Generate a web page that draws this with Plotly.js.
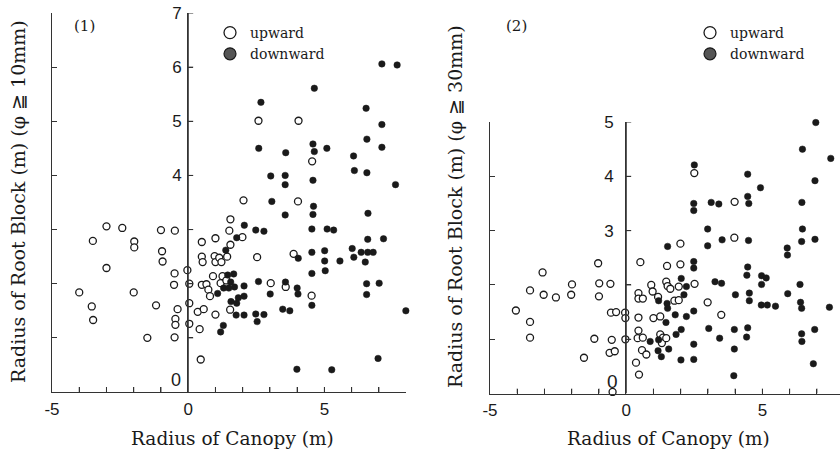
<!DOCTYPE html>
<html><head><meta charset="utf-8">
<script src="https://cdn.plot.ly/plotly-3.0.1.min.js"></script>
<style>html,body{margin:0;padding:0;background:#fff;}#chart{width:840px;height:454px;}</style>
</head><body><div id="chart"></div>
<script>
// ---------- Panel (1): φ ≧ 10mm ----------
const p1UpwardX = [-4.0,-3.5,-3.54,-3.49,-3.0,-3.0,-2.42,-1.98,-1.98,-2.0,-1.5,-1.18,-1.0,-0.96,-0.94,-0.49,-0.5,-0.52,-0.39,-0.47,-0.47,-0.5,-0.03,0.04,0.04,0.04,0.35,0.57,0.42,0.46,0.5,0.5,0.53,0.5,0.67,0.74,0.8,0.91,1.0,0.97,1.0,1.14,1.22,1.19,1.26,1.0,1.43,1.55,1.54,1.51,1.55,1.99,2.03,2.53,2.58,3.03,3.58,3.87,4.03,4.05,4.55,4.53,1.40];
const p1UpwardY = [1.84,2.79,1.58,1.33,3.06,2.29,3.03,2.78,2.67,1.84,1.0,1.6,2.99,2.6,2.41,2.98,2.19,1.98,1.53,1.35,1.24,1.01,2.25,2.0,1.64,1.26,1.48,1.53,1.16,0.6,2.77,2.5,2.4,1.98,1.99,1.89,1.77,2.14,2.84,2.51,2.4,2.48,2.4,2.01,2.14,1.43,2.5,2.72,1.52,2.98,3.19,2.86,3.54,2.49,5.01,2.01,1.94,2.55,3.52,5.01,4.26,1.78,2.06];
const p1DownwardX = [7.11,7.67,4.63,2.67,6.53,7.11,2.59,3.58,4.58,4.63,5.09,6.07,6.56,7.11,3.03,3.56,3.56,4.58,6.10,6.56,7.61,3.07,4.60,3.56,4.58,6.60,2.06,4.54,5.10,5.34,6.59,7.17,2.48,2.78,1.78,1.38,4.04,4.54,5.01,5.01,5.57,6.02,6.08,6.35,6.59,6.79,6.50,5.03,4.54,6.55,7.01,6.55,4.00,4.03,4.54,3.47,3.73,7.99,6.97,3.99,5.27,1.45,1.67,1.56,1.30,1.49,1.70,1.08,2.05,2.05,2.58,3.01,3.57,1.84,1.57,1.78,1.76,2.05,2.48,2.78,2.53,1.29,1.19];
const p1DownwardY = [6.06,6.04,5.61,5.35,5.24,4.94,4.50,4.42,4.58,4.44,4.50,4.36,4.67,4.52,3.99,4.00,3.83,3.91,4.09,4.05,3.83,3.52,3.43,3.27,3.28,3.30,3.08,3.01,3.01,2.99,2.82,2.83,2.99,2.97,2.85,2.62,2.47,2.58,2.61,2.42,2.42,2.65,2.49,2.58,2.58,2.58,2.40,2.24,2.19,2.00,2.01,1.80,1.92,1.81,1.60,1.53,1.50,1.50,0.62,0.42,0.41,2.16,2.18,2.03,1.92,1.92,1.94,1.82,1.96,1.77,2.04,1.81,2.03,1.74,1.67,1.64,1.42,1.42,1.44,1.43,1.30,1.23,1.11];

// ---------- Panel (2): φ ≧ 30mm ----------
const p2UpwardX = [-4.05,-3.53,-3.53,-3.53,-3.07,-3.03,-2.58,-1.99,-2.02,-1.55,-1.17,-1.03,-0.99,-1.00,-0.58,-0.56,-0.37,-0.53,-0.61,-0.42,-0.50,-0.04,-0.03,-0.03,0.52,0.45,0.45,0.61,0.45,0.45,0.42,0.61,0.58,0.74,0.36,0.47,0.92,0.97,1.17,1.00,1.25,1.25,1.35,1.31,1.47,1.47,1.52,1.62,1.50,1.99,1.99,1.93,1.77,1.93,2.51,2.50,2.99,3.49,3.97,3.98];
const p2UpwardY = [1.53,1.90,1.32,1.03,2.23,1.82,1.77,2.01,1.82,0.66,1.01,2.40,2.03,1.79,2.02,1.49,1.50,0.99,0.75,0.78,0.03,1.49,1.39,1.00,2.42,1.85,1.75,1.75,1.40,1.16,1.02,1.03,0.80,0.72,0.57,0.35,2.00,1.88,1.78,1.39,1.42,1.09,1.03,0.93,1.02,2.06,1.98,1.93,2.35,2.76,2.38,1.97,1.71,1.72,2.02,4.06,1.68,1.45,2.87,3.53];
const p2DownwardX = [2.50,4.46,6.96,6.47,7.51,6.93,4.93,2.48,2.48,3.12,3.40,4.46,4.50,6.45,2.99,6.47,3.52,2.99,1.52,4.49,6.44,6.93,5.91,5.92,2.48,2.48,4.46,4.43,4.97,5.14,2.02,2.21,3.26,3.50,4.97,6.38,2.12,4.01,4.52,4.52,5.93,1.19,1.50,1.52,4.96,5.18,5.48,6.40,6.44,7.46,1.80,2.21,2.48,1.46,3.03,2.02,3.97,4.46,6.92,1.83,3.43,4.42,6.44,6.45,0.88,1.19,2.48,1.17,1.56,3.97,1.29,2.01,2.48,6.87,3.95];
const p2DownwardY = [4.21,4.04,4.99,4.50,4.33,3.92,3.79,3.50,3.37,3.52,3.49,3.63,3.50,3.52,3.03,3.03,2.83,2.72,2.71,2.82,2.80,2.84,2.68,2.55,2.43,2.31,2.33,2.18,2.17,2.13,2.12,1.97,2.06,2.03,2.01,2.01,1.82,1.82,1.85,1.71,1.84,1.71,1.66,1.57,1.63,1.63,1.61,1.68,1.57,1.59,1.45,1.42,1.52,1.31,1.20,1.18,1.18,1.21,1.18,1.09,1.02,1.04,1.10,0.96,0.96,0.99,0.91,0.79,0.82,0.82,0.68,0.62,0.63,0.55,0.33];

// ---------- Labels and ticks ----------
const seriesNames = ['upward', 'downward'];
const panelLabels = ['(1)', '(2)'];
const xTitle = 'Radius of Canopy (m)';
const yTitles = ['Radius of Root Block (m) (φ ≧ 10mm)', 'Radius of Root Block (m) (φ ≧ 30mm)'];
const xTickValsLeft = [-5,-4,-3,-2,-1,0];
const xTickTextLeft = ['-5','','','','',''];
const xTickValsRight1 = [0,1,2,3,4,5,6,7,8];
const xTickTextRight1 = ['0','','','','','5','','',''];
const xTickValsRight2 = [0,1,2,3,4,5,6,7];
const xTickTextRight2 = ['0','','','','','5','',''];
const yTickVals1 = [0,1,2,3,4,5,6,7];
const yTickText1 = ['','','','','4','5','6','7'];
const yTickVals2 = [0,1,2,3,4,5];
const yTickText2 = ['','','','3','4','5'];
const zeroLabel = '0';

const ink = '#1a1a1a';
const axisInk = '#333333';
const serif = 'DejaVu Serif, Liberation Serif, serif';
const sans = 'Liberation Sans, Arial, sans-serif';
const W = 840, H = 454;
const px = v => v / W, py = v => 1 - v / H;
const unit = 27.24;                      // pixels per metre on both x axes
const x0p1 = 52 + 5 * unit, x0p2 = 490 + 5 * unit;
const tickLen = 5;

const openMarker = {symbol: 'circle', size: 7, color: '#ffffff', line: {color: ink, width: 1.3}};
const fillMarker = {symbol: 'circle', size: 6.5, color: ink, line: {color: ink, width: 0.5}};
const legOpen = {symbol: 'circle', size: 12, color: '#ffffff', line: {color: ink, width: 1.3}};
const legFill = {symbol: 'circle', size: 12, color: '#555555', line: {color: ink, width: 1.2}};

// each panel is split at x = 0 into a left part (axis at x = -5) and a right part (axis at x = 0);
// every series is given to both parts and each part shows the points inside its own x range
const pts = (x, y, xa, ya, marker, name) => ({x: x, y: y, xaxis: xa, yaxis: ya, mode: 'markers', marker: marker,
  showlegend: false, cliponaxis: false, name: name});
const data = [
  pts(p1UpwardX, p1UpwardY, 'x', 'y', openMarker, seriesNames[0]),
  pts(p1UpwardX, p1UpwardY, 'x3', 'y3', openMarker, seriesNames[0]),
  pts(p1DownwardX, p1DownwardY, 'x', 'y', fillMarker, seriesNames[1]),
  pts(p1DownwardX, p1DownwardY, 'x3', 'y3', fillMarker, seriesNames[1]),
  pts(p2UpwardX, p2UpwardY, 'x2', 'y2', openMarker, seriesNames[0]),
  pts(p2UpwardX, p2UpwardY, 'x4', 'y4', openMarker, seriesNames[0]),
  pts(p2DownwardX, p2DownwardY, 'x2', 'y2', fillMarker, seriesNames[1]),
  pts(p2DownwardX, p2DownwardY, 'x4', 'y4', fillMarker, seriesNames[1]),
  // legend entries
  {x: [null], y: [null], xaxis: 'x', yaxis: 'y', mode: 'markers', marker: legOpen, name: seriesNames[0], legend: 'legend'},
  {x: [null], y: [null], xaxis: 'x', yaxis: 'y', mode: 'markers', marker: legFill, name: seriesNames[1], legend: 'legend'},
  {x: [null], y: [null], xaxis: 'x2', yaxis: 'y2', mode: 'markers', marker: legOpen, name: seriesNames[0], legend: 'legend2'},
  {x: [null], y: [null], xaxis: 'x2', yaxis: 'y2', mode: 'markers', marker: legFill, name: seriesNames[1], legend: 'legend2'}
];

const tickFont = {family: sans, size: 17, color: ink};
const baseAxis = {showgrid: false, zeroline: false, showline: true, linecolor: axisInk, linewidth: 1.2,
  ticks: 'inside', ticklen: tickLen, tickcolor: axisInk, tickwidth: 1, tickfont: tickFont, fixedrange: true};
const ax = o => Object.assign({}, baseAxis, o);

// guide strokes for the central (x = 0) axes and the bottom tick marks; heights follow each y axis' own scale
const guides = [];
const vLine = (xPix, yr, yTop) => guides.push({type: 'line', layer: 'above', xref: 'paper', yref: yr, x0: px(xPix), x1: px(xPix), y0: 0, y1: yTop,
  line: {color: axisInk, width: 1.2}});
const yTicks = (xPix, yr, vals) => vals.filter(v => v > 0).forEach(v => guides.push({type: 'line', layer: 'above', xref: 'paper', yref: yr,
  x0: px(xPix), x1: px(xPix + tickLen), y0: v, y1: v, line: {color: axisInk, width: 1}}));
const xTicks = (xr, yr, vals) => vals.forEach(v => guides.push({type: 'line', layer: 'above', xref: xr, yref: yr,
  ysizemode: 'pixel', yanchor: 0, y0: 0, y1: tickLen, x0: v, x1: v, line: {color: axisInk, width: 1}}));
vLine(x0p1, 'y3', yTickVals1[yTickVals1.length - 1]);
vLine(x0p2, 'y4', yTickVals2[yTickVals2.length - 1]);
yTicks(x0p1, 'y3', yTickVals1);
yTicks(x0p2, 'y4', yTickVals2);
xTicks('x', 'y', xTickValsLeft.filter(v => v > -5 && v < 0));
xTicks('x3', 'y3', xTickValsRight1.filter(v => v > 0 && v < 8));
xTicks('x2', 'y2', xTickValsLeft.filter(v => v > -5 && v < 0));
xTicks('x4', 'y4', xTickValsRight2.filter(v => v > 0));

const legendFont = {family: serif, size: 14, color: ink};
const annFont = {family: serif, size: 18.5, color: ink};
const yTitleFont = {family: serif, size: 19, color: ink};
const ann = (text, x, y, font, extra) => Object.assign({text: text, xref: 'paper', yref: 'paper', x: px(x), y: py(y),
  xanchor: 'center', yanchor: 'middle', showarrow: false, font: font}, extra || {});

const layout = {
  width: W, height: H, margin: {l: 0, r: 0, t: 0, b: 0},
  paper_bgcolor: '#ffffff', plot_bgcolor: '#ffffff', showlegend: true,
  // panel (1)
  xaxis: ax({domain: [px(52), px(x0p1)], range: [-5, 0], anchor: 'y', tickvals: xTickValsLeft, ticktext: xTickTextLeft, ticklabelstandoff: 1}),
  yaxis: ax({domain: [py(392), py(13)], range: [0, 7], anchor: 'x', tickvals: yTickVals1.slice(1), showticklabels: false}),
  xaxis3: ax({domain: [px(x0p1), px(x0p1 + 8 * unit)], range: [0, 8], anchor: 'y3', tickvals: xTickValsRight1, ticktext: xTickTextRight1, ticklabelstandoff: 1}),
  yaxis3: ax({domain: [py(392), py(13)], range: [0, 7], anchor: 'x3', side: 'left', tickvals: yTickVals1, ticktext: yTickText1, ticklabelstandoff: 2}),
  // panel (2)
  xaxis2: ax({domain: [px(490), px(x0p2)], range: [-5, 0], anchor: 'y2', tickvals: xTickValsLeft, ticktext: xTickTextLeft, ticklabelstandoff: 1}),
  yaxis2: ax({domain: [py(393.6), py(122)], range: [0, 5], anchor: 'x2', tickvals: yTickVals2.slice(1), showticklabels: false}),
  xaxis4: ax({domain: [px(x0p2), 1], range: [0, (W - x0p2) / unit], anchor: 'y4', tickvals: xTickValsRight2, ticktext: xTickTextRight2, ticklabelstandoff: 1}),
  yaxis4: ax({domain: [py(393.6), py(122)], range: [0, 5], anchor: 'x4', side: 'left', tickvals: yTickVals2, ticktext: yTickText2, ticklabelstandoff: 8}),
  legend: {x: px(210), y: py(17), xanchor: 'left', yanchor: 'top', font: legendFont},
  legend2: {x: px(690), y: py(17), xanchor: 'left', yanchor: 'top', font: legendFont},
  shapes: guides,
  annotations: [
    ann(panelLabels[0], 84, 26, {family: serif, size: 15, color: ink}),
    ann(panelLabels[1], 516, 26, {family: serif, size: 15, color: ink}),
    ann(xTitle, 232, 438, annFont),
    ann(xTitle, 668, 438, annFont),
    ann(yTitles[0], 18, 202, yTitleFont, {textangle: -90}),
    ann(yTitles[1], 455, 206, yTitleFont, {textangle: -90}),
    ann(zeroLabel, 175.5, 380, {family: sans, size: 18, color: ink}),
    ann(zeroLabel, 612.7, 381, {family: sans, size: 19, color: ink})
  ]
};

Plotly.newPlot('chart', data, layout, {staticPlot: true, displayModeBar: false});
</script>
</body></html>
